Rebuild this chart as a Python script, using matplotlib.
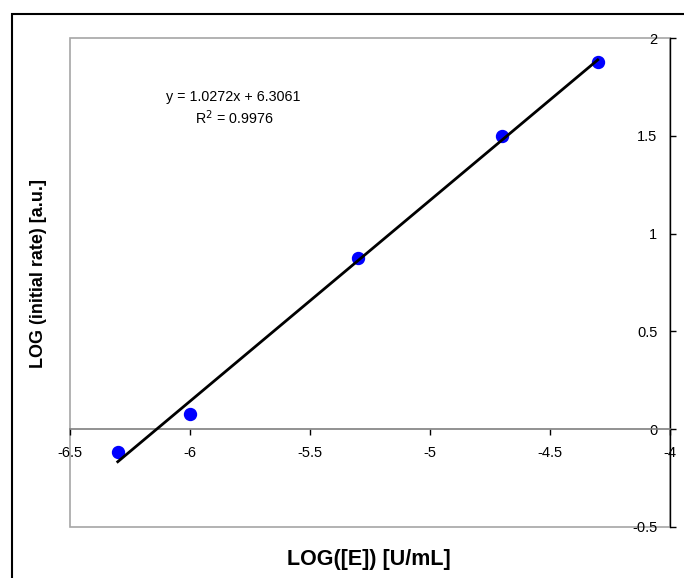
import numpy as np
import matplotlib.pyplot as plt
from matplotlib.patches import Rectangle

plt.rcParams['font.family'] = ['Liberation Sans', 'DejaVu Sans']

# data
log_e = [-6.301, -6.0, -5.301, -4.699, -4.301]
log_rate = [-0.118, 0.077, 0.875, 1.499, 1.877]
slope, intercept = 1.0272, 6.3061
r2 = 0.9976
x_ticks = [-6.5, -6, -5.5, -5, -4.5, -4]
y_ticks = [-0.5, 0, 0.5, 1, 1.5, 2]

W, H = 684, 578
fig = plt.figure(figsize=(W / 100, H / 100), dpi=100)

# outer chart frame (runs off the right and bottom edges)
fig.patches.append(Rectangle((12 / W, -0.1), 1.2, 1 - 14 / H + 0.1,
                             transform=fig.transFigure, fill=False,
                             edgecolor='black', linewidth=1.5))

ax = fig.add_axes([70 / W, 1 - 527 / H, 600 / W, 489 / H])
ax.set_xlim(-6.5, -4)
ax.set_ylim(-0.5, 2)

# plot area border
ax.add_patch(Rectangle((0, 0), 1, 1, transform=ax.transAxes, fill=False,
                       edgecolor='#a6a6a6', linewidth=1.2, clip_on=False, zorder=0))

for s in ['top', 'left']:
    ax.spines[s].set_visible(False)
ax.spines['bottom'].set_position(('data', 0))
ax.spines['bottom'].set_color('#7f7f7f')
ax.spines['bottom'].set_linewidth(1.2)
ax.spines['right'].set_color('black')
ax.spines['right'].set_linewidth(1.0)

ax.set_xticks(x_ticks)
ax.set_xticklabels([f'{v:g}' for v in x_ticks])
ax.set_yticks(y_ticks)
ax.set_yticklabels([f'{v:g}' for v in y_ticks])

ax.tick_params(axis='x', direction='out', length=4, width=1, color='black',
               labelsize=10.5, pad=8)
ax.tick_params(axis='y', left=False, labelleft=False, right=True, labelright=True,
               direction='out', length=4, width=1, labelsize=10.5, pad=-13)
for lbl in ax.get_yticklabels():
    lbl.set_horizontalalignment('right')

ax.plot(log_e, log_rate, 'o', color='#0000ff', markersize=8.6, zorder=3,
        clip_on=False)

xs = np.array([min(log_e), max(log_e)])
ax.plot(xs, slope * xs + intercept, color='black', linewidth=2, zorder=4)

# trendline label (pixel positions)
ax.text(233, H - 97, f'y = {slope}x + {intercept}', transform=None, fontsize=10.3,
        ha='center', va='center')
ax.text(234, H - 118, f'R$^2$ = {r2}', fontsize=10.3, ha='center', va='center',
        transform=None)

fig.text(369 / W, 1 - 559 / H, 'LOG([E]) [U/mL]', fontsize=15.5, fontweight='bold',
         ha='center', va='center')
fig.text(39 / W, 1 - 273 / H, 'LOG (initial rate) [a.u.]', fontsize=13,
         fontweight='bold', rotation=90, ha='center', va='center')

fig.savefig('out.png', dpi=100)
